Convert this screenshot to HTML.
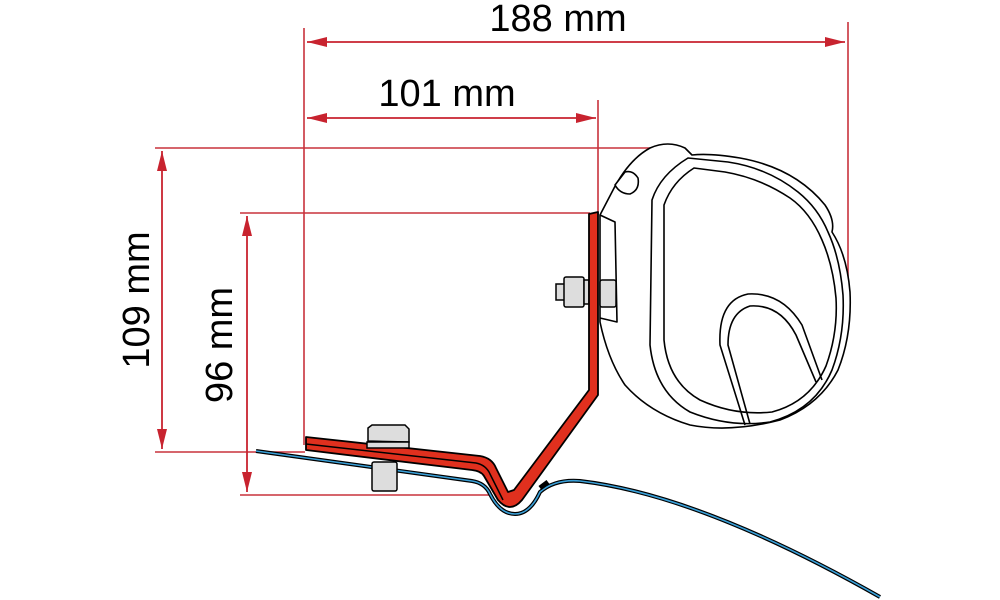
<!DOCTYPE html>
<html><head><meta charset="utf-8"><style>
html,body{margin:0;padding:0;background:#fff;}
svg{display:block;}
text{font-family:"Liberation Sans",Arial,sans-serif;fill:#000;}
</style></head><body>
<svg width="1000" height="600" viewBox="0 0 1000 600" xmlns="http://www.w3.org/2000/svg">
<defs>
<marker id="a" viewBox="0 0 20 10" refX="20" refY="5" markerWidth="20" markerHeight="10" markerUnits="userSpaceOnUse" orient="auto-start-reverse">
<path d="M0,0 L20,5 L0,10 Z" fill="#c8232f"/>
</marker>
</defs>
<g stroke="#c8323c" stroke-width="1.6" fill="none">
<line x1="304" y1="28" x2="304" y2="445"/>
<line x1="848" y1="22" x2="848" y2="300"/>
<line x1="598" y1="100" x2="598" y2="215"/>
<line x1="155" y1="148" x2="664" y2="148"/>
<line x1="155" y1="452" x2="305" y2="452"/>
<line x1="240" y1="213" x2="590" y2="213"/>
<line x1="240" y1="495" x2="490" y2="495"/>
</g>
<g stroke="#c8232f" stroke-width="1.8" fill="none">
<line x1="307" y1="42" x2="845" y2="42" marker-start="url(#a)" marker-end="url(#a)"/>
<line x1="307" y1="118" x2="596" y2="118" marker-start="url(#a)" marker-end="url(#a)"/>
<line x1="162" y1="151" x2="162" y2="449" marker-start="url(#a)" marker-end="url(#a)"/>
<line x1="247" y1="216" x2="247" y2="492" marker-start="url(#a)" marker-end="url(#a)"/>
</g>
<text x="558" y="31" font-size="38" text-anchor="middle">188 mm</text>
<text x="447" y="106" font-size="38" text-anchor="middle">101 mm</text>
<text transform="translate(149,300) rotate(-90)" font-size="38" text-anchor="middle">109 mm</text>
<text transform="translate(232,345) rotate(-90)" font-size="38" text-anchor="middle">96 mm</text>

<!-- cassette -->
<g fill="#fff" stroke="#000" stroke-width="1.6" stroke-linejoin="round">
<path d="M600,215 L612,192 Q628,160 650,148 Q668,140 685,148 L692,155 Q710,153 740,158 Q795,168 825,205 Q835,220 832,232 Q847,255 850,292 Q852,335 838,370 Q820,405 780,420 Q730,433 690,425 Q650,413 625,385 Q608,360 600,322 Z"/>
<path d="M688,158 Q660,175 652,200 L650,345 Q655,392 690,412 Q730,428 770,422 Q815,410 832,370 Q845,335 843,295 Q840,258 828,232 Q818,208 798,192 Q768,168 728,162 Z" fill="none"/>
<path d="M694,168 Q672,182 664,205 L664,340 Q668,382 700,400 Q735,416 772,412 Q810,402 826,366 Q838,333 836,298 Q833,265 822,240 Q810,212 790,198 Q760,178 725,172 Z" fill="none"/>
<path d="M615,185 L625,172 Q633,170 638,178 Q640,190 630,194 Q620,194 615,185 Z"/>
<path d="M600,215 L615,222 L617,322 L600,318" fill="none"/>
<path d="M745,425 L720,345 Q718,300 748,294 Q782,292 802,325 L822,380" fill="none"/>
<path d="M750,424 L728,345 Q728,313 750,306 Q780,304 796,335 L816,382" fill="none"/>
</g>
<!-- nuts -->
<g fill="#ddd" stroke="#000" stroke-width="1.5">
<rect x="556" y="284" width="9" height="16"/>
<rect x="564" y="277" width="20" height="30" rx="2"/>
<rect x="584" y="280" width="5" height="24"/>
<rect x="600" y="280" width="16" height="27" rx="2"/>
</g>
<!-- roof -->
<path d="M256,451 L472,481 Q485,483 490,494 Q500,514 515,514 Q530,514 540,492 Q555,479 580,481 Q700,495 880,597" fill="none" stroke="#000" stroke-width="4"/>
<path d="M256,451 L472,481 Q485,483 490,494 Q500,514 515,514 Q530,514 540,492 Q555,479 580,481 Q700,495 880,597" fill="none" stroke="#3aa0d8" stroke-width="1.6"/>
<!-- bracket -->
<path d="M589,214 L598,212 L598,395 L522,500 Q510,514 498,500 L484,476 Q481,471 472,470 L306,450 L306,437 L480,456 Q492,458 496,468 L508,492 L514,490 L589,390 Z" fill="#e0301e" stroke="#000" stroke-width="1.8" stroke-linejoin="round"/>
<path d="M306,444 L476,463 Q486,465 490,474 L503,500" fill="none" stroke="#000" stroke-width="1.5"/>
<path d="M540,488 L548,482" stroke="#000" stroke-width="5"/>
<!-- bolt -->
<g fill="#ddd" stroke="#000" stroke-width="1.5">
<path d="M368,428 L372,425 L405,425 L409,429 L409,442 L368,441 Z"/>
<rect x="367" y="442" width="42" height="6"/>
<rect x="372" y="462" width="25" height="29" rx="2"/>
</g>
</svg>
</body></html>
